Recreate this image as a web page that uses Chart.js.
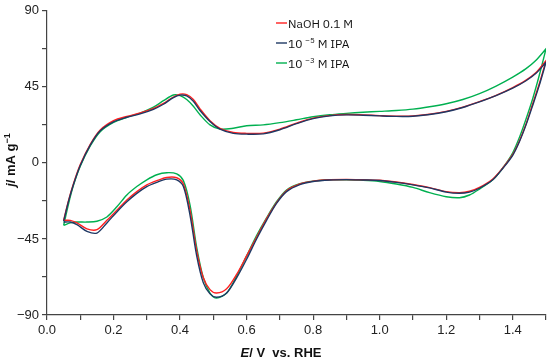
<!DOCTYPE html>
<html>
<head>
<meta charset="utf-8">
<script src="https://cdn.jsdelivr.net/npm/chart.js@4.4.1/dist/chart.umd.min.js"></script>
<style>
html,body{margin:0;padding:0;background:#fff;}
#wrap{width:550px;height:361px;position:relative;}
</style>
</head>
<body>
<div id="wrap"><canvas id="c" width="550" height="361"></canvas></div>
<script>
// Potential grids (V vs. RHE)
const potAnodic = [0.05,0.065,0.08,0.10,0.13,0.16,0.20,0.24,0.28,0.32,0.35,0.38,0.40,0.42,0.44,0.46,0.49,0.52,0.56,0.60,0.65,0.70,0.75,0.80,0.85,0.90,0.95,1.00,1.05,1.10,1.15,1.20,1.25,1.30,1.35,1.40,1.44,1.47,1.50];
const potCathodic = [1.50,1.48,1.46,1.44,1.42,1.40,1.37,1.34,1.30,1.27,1.24,1.20,1.15,1.10,1.05,1.00,0.95,0.90,0.85,0.80,0.76,0.72,0.69,0.66,0.63,0.60,0.57,0.54,0.51,0.49,0.47,0.45,0.43,0.41,0.39,0.36,0.33,0.30,0.27,0.24,0.21,0.18,0.15,0.12,0.09,0.07,0.05];

// Current density (mA g^-1)
const naohAnodic = [-34,-22,-12,-1,11,19.5,25,27.5,29.5,32.2,35.2,39,40.7,40.4,37.5,32,25,20.5,18,17.5,17.6,20,23.5,26.5,28,28.6,28.4,28,27.7,27.8,28.8,30.5,33,36.3,40,44.6,49,53.5,60.5];
const naohCathodic = [60.5,47,35,23,13,5,-3,-9.5,-14.5,-16.8,-17.6,-17,-14.6,-12.8,-11.3,-10.3,-10,-9.8,-10,-10.8,-12.5,-16.5,-23.5,-33,-44,-55,-66,-74.5,-77,-75,-68,-52,-28,-12.5,-8.8,-8.6,-10.5,-13,-17,-22,-28,-34,-39.5,-39,-35.5,-34,-34];

const ipa5Anodic = [-34.5,-22.5,-12.5,-1.5,10.5,19,24.3,27,29,31.7,34.7,38.6,40.1,39.6,36.5,31,24.5,20,17.5,17,17.2,19.6,23.2,26.2,27.8,28.4,28.2,27.8,27.5,27.6,28.6,30.3,32.8,36.1,39.8,44.2,48.6,53,59.5];
const ipa5Cathodic = [59.5,46,34,22.5,12.5,4.5,-3.3,-10,-15,-17.3,-18,-17.3,-14.8,-13,-11.5,-10.4,-10.1,-9.9,-10.1,-11,-12.8,-17,-24,-34,-45,-57,-68,-77,-79.5,-77.5,-71,-55,-31,-14,-10,-9.6,-11.5,-14,-18,-23,-29,-35.5,-41.5,-40.5,-36.5,-35,-35];

const ipa3Anodic = [-37,-24,-13,-2,10,18.5,24,27,29.5,33,36.8,40.2,39.8,37.5,33.5,28.5,22.5,20,20.5,22,22.5,23.8,25.5,27.3,28.5,29.3,30,30.5,31,31.8,33.2,35,37.5,41,45.5,50.8,55.8,60.8,67.5];
const ipa3Cathodic = [67.5,52,38,26,15,6,-3,-10,-15.5,-19,-20.6,-20,-17.6,-14.5,-12.5,-11,-10.3,-10,-10,-10.8,-12.3,-16,-23,-32.5,-43,-55,-67,-77,-80,-77,-68,-50,-25,-10.5,-6.5,-5.8,-7,-10,-14,-19,-26,-32,-34.5,-35,-35,-35.5,-37];

const seriesLabels = ['NaOH 0.1 M', '10\u207B\u2075 M IPA', '10\u207B\u00B3 M IPA'];
// legend pieces: [normal text, superscript, normal text]
const legendParts = [['NaOH 0.1 M','',''], ['10 ','\u22125',' M IPA'], ['10 ','\u22123',' M IPA']];
const seriesColors = ['#ff2020', '#1f3864', '#00b050'];

const xTickLabels = ['0.0','0.2','0.4','0.6','0.8','1.0','1.2','1.4'];
const yTickLabels = ['\u221290','\u221245','0','45','90'];

function loop(ea, ja, ec, jc){
  const pts = [];
  for (let i=0;i<ea.length;i++) pts.push({x:ea[i], y:ja[i]});
  // the vertex appears in both sweeps, which keeps a sharp turn there
  for (let i=0;i<ec.length;i++) pts.push({x:ec[i], y:jc[i]});
  return pts;
}

const datasets = [
  loop(potAnodic, naohAnodic, potCathodic, naohCathodic),
  loop(potAnodic, ipa5Anodic, potCathodic, ipa5Cathodic),
  loop(potAnodic, ipa3Anodic, potCathodic, ipa3Cathodic)
].map((d,i)=>({
  label: seriesLabels[i],
  data: d,
  showLine: true,
  borderColor: seriesColors[i],
  backgroundColor: seriesColors[i],
  borderWidth: 1.4,
  pointRadius: 0,
  tension: 0.3,
  fill: false
}));
datasets[0].order = 2; datasets[1].order = 1; datasets[2].order = 3;

const axisFont = {family: "'Liberation Sans', Arial, sans-serif", size: 13};

const customText = {
  id: 'customText',
  afterDraw(chart){
    const ctx = chart.ctx;
    ctx.save();
    // legend
    const lf = "'IBM Plex Sans', 'Noto Sans', 'Open Sans', sans-serif";
    ctx.textBaseline = 'alphabetic';
    ctx.fillStyle = '#111';
    const ly = [23, 43, 63];
    for (let i=0;i<legendParts.length;i++){
      ctx.strokeStyle = seriesColors[i];
      ctx.lineWidth = 1.4;
      ctx.beginPath(); ctx.moveTo(276, ly[i]); ctx.lineTo(287, ly[i]); ctx.stroke();
      let lx = 288;
      const base = ly[i] + 4.5;
      const p = legendParts[i];
      ctx.font = '12px ' + lf; ctx.fillText(p[0], lx, base); lx += ctx.measureText(p[0]).width;
      if (p[1]) { ctx.font = '8px ' + lf; ctx.fillText(p[1], lx, base - 5); lx += ctx.measureText(p[1]).width; }
      if (p[2]) { ctx.font = '12px ' + lf; ctx.fillText(p[2], lx, base); }
    }
    // x title
    const fam = "'Liberation Sans', Arial, sans-serif";
    ctx.fillStyle = '#111';
    const xParts = [['italic bold 13px '+fam,'E'],['bold 13px '+fam,'/ V  vs. RHE']];
    let w = 0;
    xParts.forEach(p=>{ctx.font=p[0]; w+=ctx.measureText(p[1]).width;});
    let x = 281 - w/2;
    xParts.forEach(p=>{ctx.font=p[0]; ctx.fillText(p[1], x, 357); x+=ctx.measureText(p[1]).width;});
    // y title
    ctx.translate(15, 160);
    ctx.rotate(-Math.PI/2);
    const yParts = [['italic bold 13px '+fam,'j',0],['bold 13px '+fam,'/ mA g',0],['bold 9px '+fam,'\u22121',-5]];
    w = 0;
    yParts.forEach(p=>{ctx.font=p[0]; w+=ctx.measureText(p[1]).width;});
    x = -w/2;
    yParts.forEach(p=>{ctx.font=p[0]; ctx.fillText(p[1], x, p[2]); x+=ctx.measureText(p[1]).width;});
    ctx.restore();
  }
};

new Chart(document.getElementById('c'), {
  type: 'scatter',
  data: {datasets},
  options: {
    responsive: false,
    animation: false,
    devicePixelRatio: 1,
    layout: {padding: {top: 10, right: 4, left: 0, bottom: 0}},
    plugins: {legend: {display: false}, tooltip: {enabled: false}},
    scales: {
      x: {
        type: 'linear', min: 0, max: 1.5,
        border: {display: true, color: '#444', width: 1.2},
        grid: {display: true, drawOnChartArea: false, drawTicks: true, tickLength: 5, color: '#444', lineWidth: 1.2},
        ticks: {
          stepSize: 0.1, includeBounds: false, autoSkip: false, maxRotation: 0,
          color: '#222', font: axisFont, padding: 3,
          callback: (v)=>{ const k = Math.round(v*10); return k%2===0 ? xTickLabels[k/2] : ''; }
        },
        afterFit: (s)=>{ s.height = 46; }
      },
      y: {
        type: 'linear', min: -90, max: 90,
        border: {display: true, color: '#444', width: 1.2},
        grid: {display: true, drawOnChartArea: false, drawTicks: true, tickLength: 5, color: '#444', lineWidth: 1.2},
        ticks: {
          stepSize: 22.5, autoSkip: false,
          color: '#222', font: axisFont, padding: 3,
          callback: (v)=>{ const k = Math.round((v+90)/22.5); return k%2===0 ? yTickLabels[k/2] : ''; }
        },
        afterFit: (s)=>{ s.width = 47; }
      }
    }
  },
  plugins: [customText]
});
</script>
</body>
</html>
